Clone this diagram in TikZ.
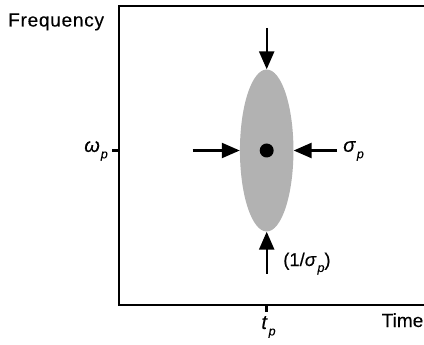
\documentclass[tikz,border=0pt]{standalone}
\usepackage{fontspec}
\setmainfont{Liberation Sans}[FakeBold=0.2]
\usetikzlibrary{arrows.meta,shapes.geometric}
\newcommand\symsub[2]{\textit{#1}\hspace{1pt}\raisebox{-0.32em}{\fontsize{12.5}{13}\selectfont\textit{#2}}}
\tikzset{
  arr/.style={line width=2.4pt,-{Triangle[length=18pt,width=15pt]}},
  axis/.style={line width=2.8pt},
  tick/.style={line width=2.8pt},
  lbl/.style={inner sep=0pt,font=\fontsize{19}{22}\selectfont},
  sym/.style={inner sep=0pt,font=\fontsize{20}{22}\selectfont},
}
\begin{document}
\begin{tikzpicture}[x=1pt,y=-1pt]
\useasboundingbox (0,0) rectangle (424,345);
% axes box
\coordinate (tr) at (426,6);
\coordinate (tl) at (119,6);
\coordinate (bl) at (119,305);
\coordinate (br) at (426,305);
\draw[axis] (tr) -- (tl) -- (bl) -- (br);
% ellipse
\node[ellipse,fill=black!30,draw=none,minimum width=53.5pt,minimum height=162pt,inner sep=0pt] (blob) at (266.7,150.5) {};
\fill (blob.center) circle (7pt);
% ticks
\coordinate (wt1) at (112,150.5);
\coordinate (wt2) at (119,150.5);
\draw[tick] (wt1) -- (wt2);
\coordinate (tt1) at (266.7,305);
\coordinate (tt2) at (266.7,312);
\draw[tick] (tt1) -- (tt2);
% arrows
\coordinate (atop) at (266.7,28);
\coordinate (abot) at (266.7,274);
\coordinate (aleft) at (192.5,150.5);
\coordinate (aright) at (337,150.5);
\draw[arr] (atop) -- (blob.north);
\draw[arr] (abot) -- (blob.south);
\draw[arr] (aleft) -- (blob.west);
\draw[arr] (aright) -- (blob.east);
% labels
\node[lbl,anchor=base west,font=\fontsize{19}{22}\selectfont\addfontfeature{LetterSpace=4}] (freq) at (8,26.5) {Frequency};
\node[sym,anchor=east] (omega) at (108,151) {\symsub{ω}{p}};
\node[sym,anchor=west] (sigma) at (343,151) {\symsub{σ}{p}};
\node[lbl,anchor=base west,font=\fontsize{18.5}{21}\selectfont] (inv) at (283,266) {(1/\symsub{σ}{p})};
\node[sym] (tp) at (268.5,327) {\symsub{t}{p}};
\node[lbl,anchor=base east] (time) at (423.5,327) {Time};
\end{tikzpicture}
\end{document}
